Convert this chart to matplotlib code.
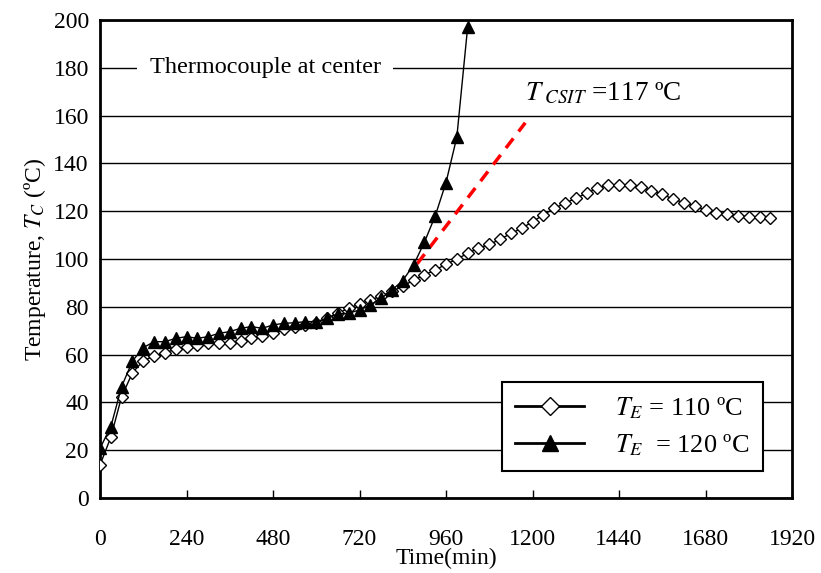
import numpy as np
import matplotlib.pyplot as plt

plt.rcParams['font.family'] = ['Liberation Serif', 'DejaVu Serif']
plt.rcParams['mathtext.fontset'] = 'stix'

# time in minutes, sampled every 30 min
t_110 = np.arange(0, 1861, 30)
temp_110 = [13.8, 25.4, 42.4, 52.4, 57.4, 59.4, 60.8, 62.2, 63.3, 64.0,
            64.7, 64.7, 65.0, 65.8, 66.8, 67.8, 68.9, 70.6, 71.7, 72.4,
            73.3, 75.2, 77.3, 79.4, 81.2, 82.8, 84.5, 86.5, 88.5, 91.2,
            93.3, 95.4, 97.8, 99.9, 102.4, 104.5, 106.1, 108.2, 110.7, 112.8,
            115.6, 118.4, 121.2, 123.3, 125.4, 127.5, 129.6, 131.0, 131.0, 131.0,
            130.3, 128.6, 127.2, 125.0, 123.6, 122.2, 120.5, 119.4, 118.8, 118.0,
            117.7, 117.4, 117.0]

t_120 = np.arange(0, 1021, 30)
temp_120 = [20.8, 29.8, 46.6, 57.3, 62.9, 65.4, 65.4, 66.8, 67.5, 66.8,
            67.5, 68.9, 69.6, 71.0, 71.7, 71.0, 72.4, 73.1, 73.3, 73.8,
            73.8, 75.2, 77.0, 77.3, 78.7, 80.8, 83.5, 87.0, 91.0, 97.5,
            107.0, 118.0, 132.0, 151.0, 197.0]

# critical self-ignition tangent
csit_t = [880, 1180]
csit_temp = [98, 157]

x_ticks = [0, 240, 480, 720, 960, 1200, 1440, 1680, 1920]
y_ticks = list(range(0, 201, 20))

fig = plt.figure(figsize=(8.21, 5.73), dpi=100)
ax = fig.add_axes([0.1218, 0.1309, 0.8429, 0.8342])

ax.plot(t_110, temp_110, color='black', lw=1.0, marker='D', ms=6.5,
        mfc='white', mec='black', mew=1.0, label=r'$T_E$ = 110 ºC', zorder=3)
ax.plot(t_120, temp_120, color='black', lw=1.0, marker='^', ms=8.5,
        mfc='black', mec='black', label=r'$T_E$  = 120 ºC', zorder=4)
ax.plot(csit_t, csit_temp, color='#ff0000', lw=2.5, ls=(0, (3.5, 2.5)), zorder=2)

ax.set_xlim(0, 1920)
ax.set_ylim(0, 200)
ax.set_xticks(x_ticks)
ax.set_yticks(y_ticks)
ax.yaxis.grid(True, color='black', lw=1.0)
ax.set_axisbelow(True)
ax.tick_params(axis='x', direction='in', length=6, width=1, labelsize=17, pad=22)
ax.tick_params(axis='y', direction='in', length=0, labelsize=17, pad=8)
for s in ax.spines.values():
    s.set_linewidth(2.0)

ax.set_xlabel('Time(min)', fontsize=17, labelpad=-1)
ax.set_ylabel(r'Temperature, $T_C$ (ºC)', fontsize=17, labelpad=4)

ax.text(458, 180, 'Thermocouple at center', fontsize=17.5, ha='center', va='center',
        bbox=dict(facecolor='white', edgecolor='none', pad=9), zorder=5)
ax.text(1180, 164, r'$T_{\ CSIT}$ =117 ºC', fontsize=19.5, ha='left', va='bottom')

leg = ax.legend(loc='lower right', bbox_to_anchor=(0.958, 0.056), borderaxespad=0,
                fontsize=19, frameon=True, fancybox=False, handlelength=2.6,
                handletextpad=1.2, borderpad=0.5, labelspacing=0.45, markerscale=1.35)
leg.get_frame().set_edgecolor('black')
leg.get_frame().set_linewidth(1.5)
leg.get_frame().set_alpha(1)
for h in leg.legend_handles:
    h.set_linewidth(2.0)

fig.savefig('out.png', dpi=100)
